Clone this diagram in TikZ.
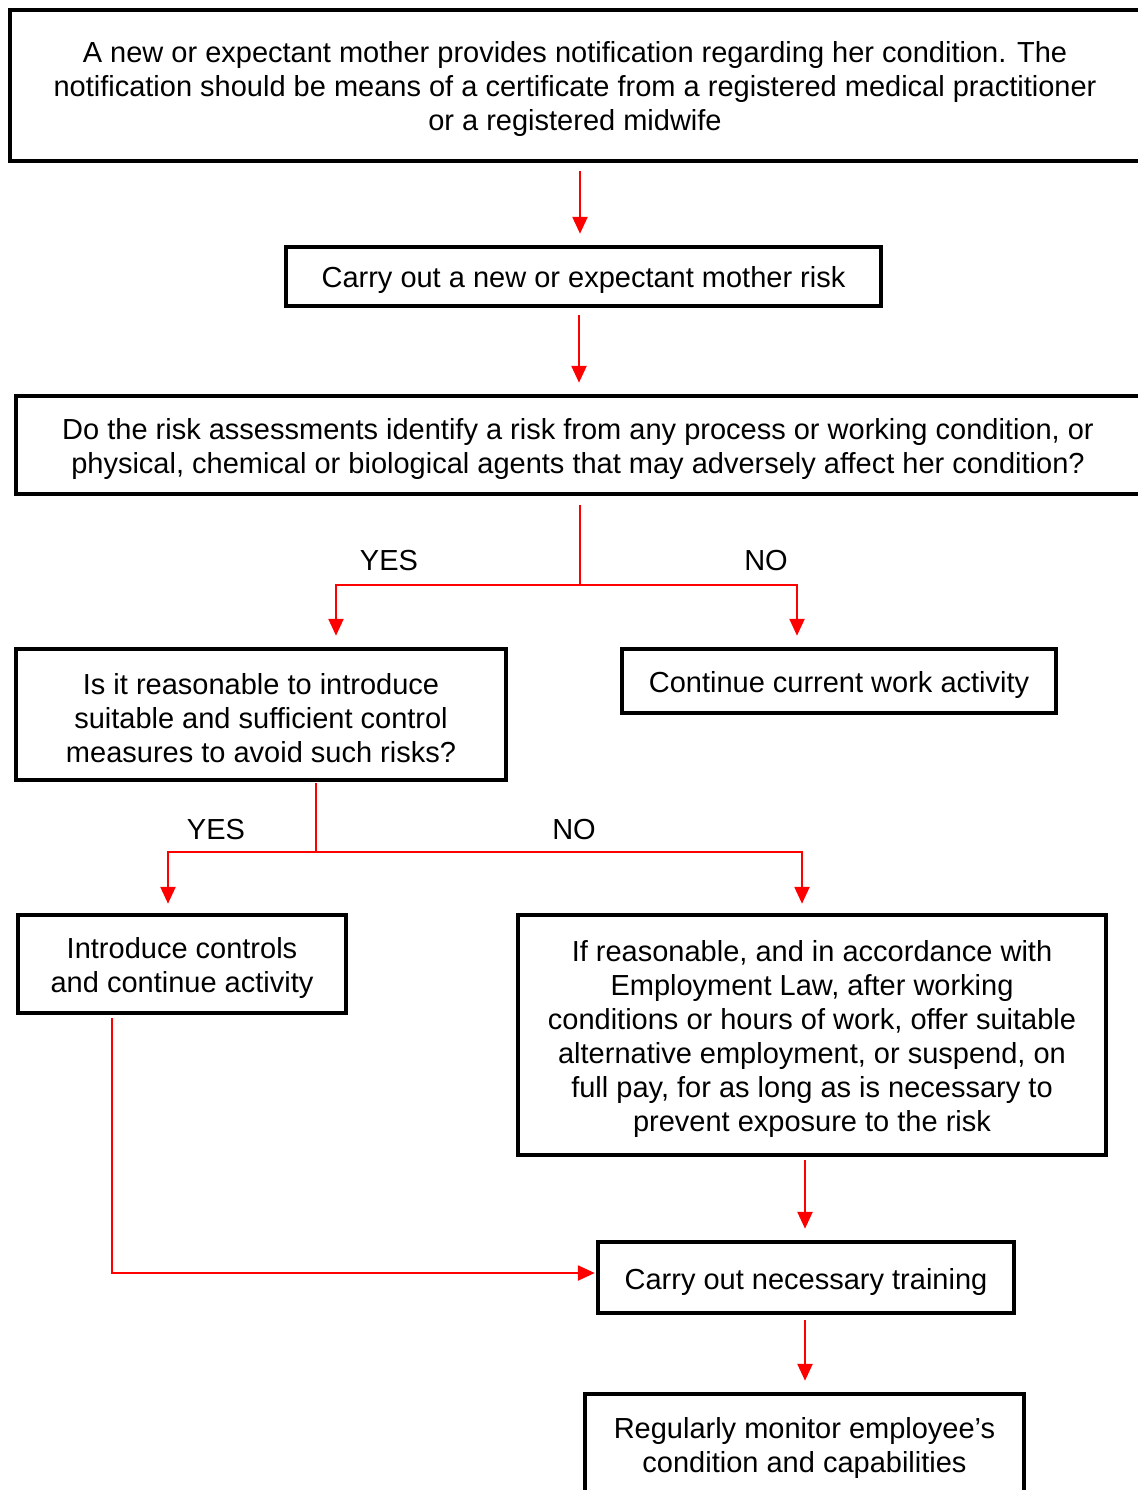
\documentclass[tikz,border=0pt]{standalone}
\usepackage{fontspec}
\setmainfont{Liberation Sans}
\usetikzlibrary{arrows.meta}
\newcommand{\topgap}{\rule{0pt}{29pt}}

\begin{document}
\begin{tikzpicture}[x=1pt,y=-1pt,
    box/.style={draw, line width=4.5pt, align=center, inner sep=0pt,
      font=\fontsize{29}{34}\selectfont},
    link/.style={draw=red, line width=2.5pt},
    arrow/.style={link, -{Triangle[width=15pt,length=17pt]}, shorten >=11pt},
    answer/.style={font=\fontsize{29}{34}\selectfont}]
    \useasboundingbox (0,0) rectangle (1137,1490);

    \node[box, minimum width=1130, minimum height=151] (notify) at (575,85.5)
      {\topgap A new or expectant mother provides notification regarding her condition. The\\
       notification should be means of a certificate from a registered medical practitioner\\
       or a registered midwife};
    \node[box, minimum width=595, minimum height=59] (risk) at (583.5,276.5)
      {\topgap Carry out a new or expectant mother risk};
    \node[box, minimum width=1124, minimum height=98] (assess) at (578,445)
      {\topgap Do the risk assessments identify a risk from any process or working condition, or\\
       physical, chemical or biological agents that may adversely affect her condition?};
    \node[box, minimum width=490, minimum height=131] (reason) at (261,714.5)
      {\topgap Is it reasonable to introduce\\ suitable and sufficient control\\ measures to avoid such risks?};
    \node[box, minimum width=434, minimum height=64] (cont) at (839,681)
      {\topgap Continue current work activity};
    \node[box, minimum width=328, minimum height=98] (intro) at (182,964)
      {\topgap Introduce controls\\ and continue activity};
    \node[box, minimum width=588, minimum height=240] (alt) at (812,1035)
      {\topgap If reasonable, and in accordance with\\ Employment Law, after working\\
       conditions or hours of work, offer suitable\\ alternative employment, or suspend, on\\
       full pay, for as long as is necessary to\\ prevent exposure to the risk};
    \node[box, minimum width=416, minimum height=71] (train) at (806,1277.5)
      {\topgap Carry out necessary training};
    \node[box, minimum width=439, minimum height=100] (monitor) at (804.5,1444)
      {\topgap Regularly monitor employee’s\\ condition and capabilities};

    \node[answer] (yes1) at (389,561) {YES};
    \node[answer] (no1) at (766,561) {NO};
    \node[answer] (yes2) at (216,830) {YES};
    \node[answer] (no2) at (574,830) {NO};

    \coordinate (fork1) at (580,585);
    \coordinate (fork2) at (316,852);

    \draw[arrow, shorten <=8pt] (notify.south -| 580,0) -- (risk.north -| 580,0);
    \draw[arrow, shorten <=7pt] (risk.south -| 579,0) -- (assess.north -| 579,0);
    \draw[link, shorten <=9pt] (assess.south -| fork1) -- (fork1);
    \draw[arrow] (fork1) -| (reason.north -| 336,0);
    \draw[arrow] (fork1) -| (cont.north -| 797,0);
    \draw[link, shorten <=1pt] (reason.south -| fork2) -- (fork2);
    \draw[arrow, shorten >=9pt] (fork2) -| (intro.north -| 168,0);
    \draw[arrow, shorten >=9pt] (fork2) -| (alt.north -| 802,0);
    \draw[arrow, shorten <=3pt] (alt.south -| 805,0) -- (train.north -| 805,0);
    \draw[arrow, shorten <=3pt, shorten >=1pt] (intro.south -| 112,0) |- ([yshift=4.5pt]train.west);
    \draw[arrow, shorten <=5pt] (train.south -| 805,0) -- (monitor.north -| 805,0);
\end{tikzpicture}
\end{document}
